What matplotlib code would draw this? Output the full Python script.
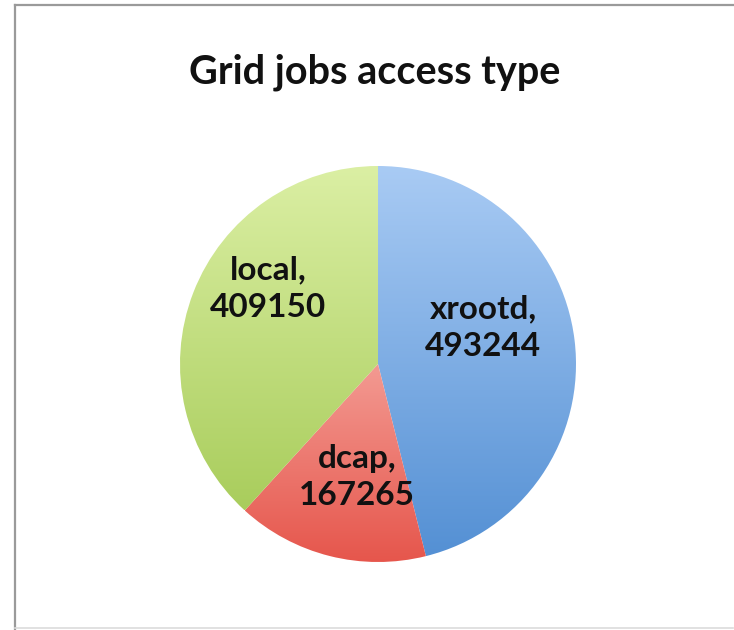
import numpy as np
import matplotlib
matplotlib.use("Agg")
import matplotlib.pyplot as plt
from matplotlib.colors import LinearSegmentedColormap
from matplotlib.lines import Line2D

# access type counts
labels = ["xrootd", "dcap", "local"]
counts = [493244, 167265, 409150]
top_colors = ["#a9cbf4", "#f39a92", "#dbefa4"]
bottom_colors = ["#5490d4", "#e6564c", "#a9cd5c"]

W, H = 734, 630
fig = plt.figure(figsize=(W / 100 + 1e-6, H / 100 + 1e-6), dpi=100)
ax = fig.add_axes([0, 0, 1, 1])
ax.axis("off")

# frame of the chart area, in figure pixels: left, top, bottom
for xs, ys, col, lw in [([14.5, 14.5], [1, H - 4.5], "#9a9a9a", 1.6),
                        ([14.5, W - 1], [H - 4.5, H - 4.5], "#9a9a9a", 1.6),
                        ([15, W - 1], [2, 2], "#dcdcdc", 1.2)]:
    fig.add_artist(Line2D(xs, ys, color=col, lw=lw, transform=None))

cx, cy, r = 378, H - 364, 198
wedges, _ = ax.pie(counts, startangle=90, counterclock=False, center=(cx, cy),
                   radius=r, wedgeprops=dict(linewidth=0))
ax.set_aspect("auto")
ax.set_xlim(0, W)
ax.set_ylim(0, H)

# vertical gradient inside each wedge
for w, c0, c1 in zip(wedges, top_colors, bottom_colors):
    w.set_facecolor("none")
    ext = w.get_path().get_extents()
    cmap = LinearSegmentedColormap.from_list("g", [c1, c0])
    grad = np.linspace(0, 1, 256).reshape(-1, 1)
    im = ax.imshow(grad, cmap=cmap, origin="lower", aspect="auto",
                   extent=[ext.x0, ext.x1, ext.y0, ext.y1], zorder=1)
    im.set_clip_path(w)
ax.set_xlim(0, W)
ax.set_ylim(0, H)

ax.text(375, H - 72, "Grid jobs access type", ha="center", va="center",
        fontsize=28.5, fontweight="bold", family="Lato", color="#111111")

label_pos = [(483, H - 328), (357, H - 477), (268, H - 289)]
for name, n, (x, y) in zip(labels, counts, label_pos):
    ax.text(x, y, f"{name},\n{n}", ha="center", va="center", fontsize=24,
            fontweight="bold", family="Lato", color="#111111",
            linespacing=1.35, zorder=3)

fig.savefig("out.png", dpi=100)
